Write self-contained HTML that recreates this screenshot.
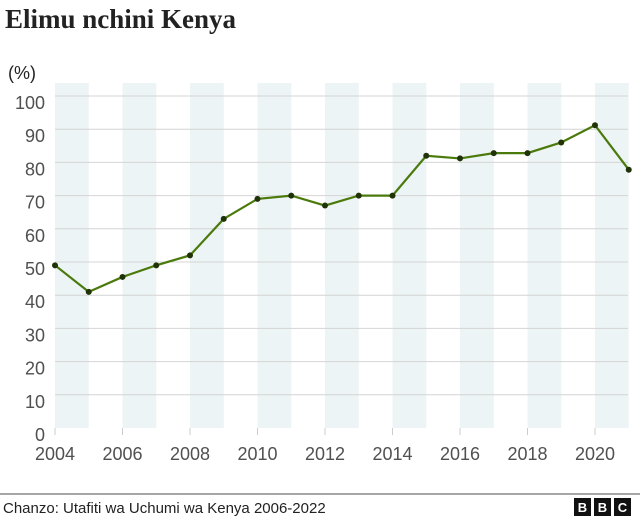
<!DOCTYPE html>
<html><head><meta charset="utf-8"><style>
body{margin:0;width:640px;height:521px;background:#fff;overflow:hidden;font-family:"Liberation Sans",sans-serif}
</style></head><body>
<svg width="640" height="521">
<text x="5" y="28" font-family="Liberation Serif,serif" font-weight="bold" font-size="27" fill="#222">Elimu nchini Kenya</text>
<text x="8" y="79" font-size="18" fill="#222">(%)</text>
<g id="bands"></g><g id="grid"></g><g id="axes"></g><g id="series"></g>
<line x1="0" y1="494" x2="640" y2="494" stroke="#888" stroke-width="1.5"/>
<text x="3" y="513" font-size="15" fill="#222">Chanzo: Utafiti wa Uchumi wa Kenya 2006-2022</text>
<g>
<rect x="574" y="498" width="17" height="18" fill="#111"/><rect x="594" y="498" width="17" height="18" fill="#111"/><rect x="614" y="498" width="17" height="18" fill="#111"/>
<text x="582.5" y="512" font-size="13" font-weight="bold" fill="#fff" text-anchor="middle">B</text>
<text x="602.5" y="512" font-size="13" font-weight="bold" fill="#fff" text-anchor="middle">B</text>
<text x="622.5" y="512" font-size="13" font-weight="bold" fill="#fff" text-anchor="middle">C</text>
</g>
</svg>
<script>
const years=[2004,2005,2006,2007,2008,2009,2010,2011,2012,2013,2014,2015,2016,2017,2018,2019,2020,2021];
const values=[49,41,45.5,49,52,63,69,70,67,70,70,82,81.2,82.8,82.8,86,91.2,77.8];
const yTicks=[0,10,20,30,40,50,60,70,80,90,100];
const xTicks=[2004,2006,2008,2010,2012,2014,2016,2018,2020];
const NS="http://www.w3.org/2000/svg";
const x=v=>55+(v-2004)*33.75;
const y=v=>428-v*3.32;
function mk(tag,attrs,parent){const e=document.createElementNS(NS,tag);for(const k in attrs)e.setAttribute(k,attrs[k]);document.getElementById(parent).appendChild(e);return e;}
for(let yr=2004;yr<=2020;yr+=2){
 const r=mk('rect',{x:x(yr),y:83,width:x(yr+1)-x(yr),height:y(0)-83,fill:'#edf4f5'},'bands');
 
 
}
yTicks.forEach(t=>{
 if(t>0){const l=mk('line',{x1:55,x2:628,y1:y(t),y2:y(t),stroke:'#d4d4d4','stroke-width':1},'grid');
 
 }
 const tx=mk('text',{x:45,y:y(t)+13,'text-anchor':'end','font-size':18,fill:'#505050'},'axes');
 tx.textContent=t;
 
 
});
xTicks.forEach(t=>{
 const l=mk('line',{x1:x(t),x2:x(t),y1:y(0),y2:y(0)+7,stroke:'#ccc'},'axes');
 
 
 const tx=mk('text',{x:x(t),y:460,'text-anchor':'middle','font-size':18,fill:'#505050'},'axes');
 tx.textContent=t;
 
 
});
const p=mk('polyline',{points:years.map((yr,i)=>x(yr)+','+y(values[i])).join(' '),fill:'none',stroke:'#4a7a0c','stroke-width':2.2},'series');


years.forEach((yr,i)=>{
 const c=mk('circle',{cx:x(yr),cy:y(values[i]),r:3,fill:'#1f3306'},'series');
 
 
});
</script>
</body></html>
